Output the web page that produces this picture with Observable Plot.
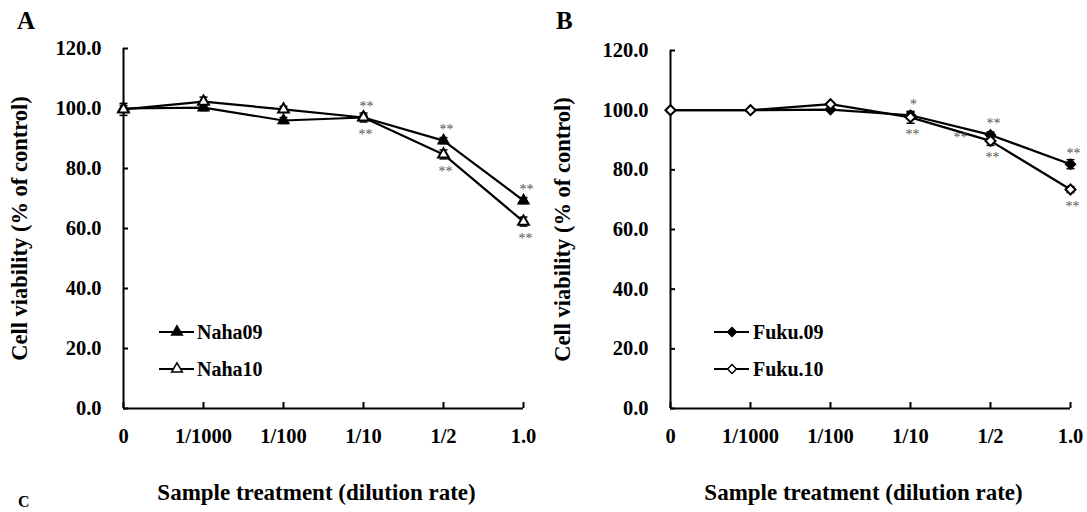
<!DOCTYPE html>
<html><head><meta charset="utf-8">
<script src="https://cdn.jsdelivr.net/npm/d3@7"></script>
<script src="https://cdn.jsdelivr.net/npm/@observablehq/plot@0.6"></script>
<style>
html,body{margin:0;padding:0;background:#fff;overflow:hidden;}
#root{position:relative;width:1087px;height:512px;overflow:hidden;font-family:"Liberation Serif","Times New Roman",serif;}
.panel{position:absolute;top:0;}
.letter{position:absolute;font-weight:bold;font-size:25px;line-height:1;}
#legend{position:absolute;left:0;top:0;pointer-events:none;}
</style></head><body><div id="root"></div>
<script>
// ---------- data ----------
const doses = ["0", "1/1000", "1/100", "1/10", "1/2", "1.0"];
const yTicks = [0, 20, 40, 60, 80, 100, 120];

const naha09 = [100.0, 100.3, 96.0, 97.0, 89.3, 69.3];
const naha09Err = [1.0, 1.0, 1.0, 0.8, 1.0, 1.0];
const naha10 = [99.7, 102.3, 99.7, 97.0, 84.7, 62.3];
const naha10Err = [2.0, 1.5, 1.0, 1.5, 1.5, 1.5];
const naha09Sig = ["", "", "", "**", "**", "**"];   // above
const naha10Sig = ["", "", "", "**", "**", "**"];   // below

const fuku09 = [100.0, 100.0, 100.2, 98.3, 91.7, 81.9];
const fuku09Err = [0.5, 0.5, 0.5, 1.0, 1.0, 1.5];
const fuku10 = [100.0, 100.0, 102.0, 97.6, 89.7, 73.4];
const fuku10Err = [0.5, 0.5, 0.5, 2.0, 1.5, 1.0];
const fuku09Sig = ["", "", "", "*", "**", "**"];    // above
const fuku10Sig = ["", "", "", "**", "**", "**"];   // below
const fukuExtraSig = ["", "", "", "", "**", ""];    // stray mark left of 1/2

const yTitle = "Cell viability (% of control)";
const xTitle = "Sample treatment (dilution rate)";
const panelLetters = ["A", "B", "C"];

// ---------- helpers ----------
const FONT = "Liberation Serif, Times New Roman, serif";
const capSymbol = {draw(ctx, size) { const w = Math.sqrt(size / Math.PI); ctx.moveTo(-w, 0); ctx.lineTo(w, 0); }};

function rows(name, vals, errs, sig) {
  return doses.map((d, i) => ({series: name, dose: d, value: vals[i], err: errs[i], sig: sig ? sig[i] : ""}));
}

function panel({width, marginLeft, marginRight, marginTop, s1, s2, symbol, r, extra}) {
  const data = [...s1, ...s2];
  return Plot.plot({
    width, height: 512, marginLeft, marginRight, marginTop, marginBottom: 104,
    style: {fontFamily: FONT, fontWeight: "bold", fontSize: "20px", color: "black", background: "transparent", overflow: "visible"},
    x: {type: "point", domain: doses, padding: 0},
    y: {domain: [0, 120]},
    marks: [
      Plot.axisY(yTicks, {tickSize: -5, tickPadding: 27, strokeWidth: 2, tickFormat: d => d.toFixed(1), label: null, fontSize: 20.5, fontWeight: "bold"}),
      Plot.axisX(doses, {tickSize: -6, tickPadding: 26, strokeWidth: 2, label: null, fontSize: 20.5, fontWeight: "bold"}),
      Plot.ruleY([0], {strokeWidth: 2}),
      Plot.ruleX([doses[0]], {strokeWidth: 2}),
      Plot.line(data, {x: "dose", y: "value", z: "series", stroke: "black", strokeWidth: 2.2}),
      Plot.ruleX(data, {x: "dose", y1: d => d.value - d.err, y2: d => d.value + d.err, stroke: "black", strokeWidth: 1.5}),
      Plot.dot(data, {x: "dose", y: d => d.value - d.err, symbol: capSymbol, r: 4, stroke: "black", strokeWidth: 1.5}),
      Plot.dot(data, {x: "dose", y: d => d.value + d.err, symbol: capSymbol, r: 4, stroke: "black", strokeWidth: 1.5}),
      Plot.dot(s1, {x: "dose", y: "value", symbol, r, fill: "black", stroke: "black", strokeWidth: 1.5}),
      Plot.dot(s2, {x: "dose", y: "value", symbol, r, fill: "white", stroke: "black", strokeWidth: 2}),
      Plot.text(s1.filter(d => d.sig), {x: "dose", y: "value", text: "sig", dy: -11, dx: 3, fontSize: 14, fontWeight: "normal", fill: "#5a5048"}),
      Plot.text(s2.filter(d => d.sig), {x: "dose", y: "value", text: "sig", dy: 17, dx: 2, fontSize: 14, fontWeight: "normal", fill: "#5a5048"}),
      ...(extra ? [Plot.text(extra, {x: "dose", y: "value", text: "sig", dx: -30, dy: -3, fontSize: 14, fontWeight: "normal", fill: "#5a5048"})] : []),
      Plot.text([yTitle], {frameAnchor: "left", textAnchor: "middle", lineAnchor: "middle", rotate: -90, dx: -(marginLeft - 19), fontSize: 22.5, fontWeight: "bold"}),
      Plot.text([xTitle], {frameAnchor: "bottom", textAnchor: "middle", lineAnchor: "middle", dy: 84, dx: -7, fontSize: 23, fontWeight: "bold"})
    ]
  });
}

const root = document.getElementById("root");

const A = panel({
  width: 543, marginLeft: 123, marginRight: 20, marginTop: 48,
  s1: rows("Naha09", naha09, naha09Err, naha09Sig),
  s2: rows("Naha10", naha10, naha10Err, naha10Sig),
  symbol: "triangle", r: 4
});
A.classList.add("panel"); A.style.left = "0px";
root.appendChild(A);

const fuku10Rows = rows("Fuku.10", fuku10, fuku10Err, fuku10Sig);
const B = panel({
  width: 544, marginLeft: 127, marginRight: 17, marginTop: 50,
  s1: rows("Fuku.09", fuku09, fuku09Err, fuku09Sig),
  s2: fuku10Rows,
  symbol: "diamond2", r: 4.5,
  extra: fuku10Rows.map((d, i) => ({...d, sig: fukuExtraSig[i]})).filter(d => d.sig)
});
B.classList.add("panel"); B.style.left = "543px";
root.appendChild(B);

// ---------- panel letters ----------
[[panelLetters[0], 17, 8], [panelLetters[1], 556, 8], [panelLetters[2], 18, 494]].forEach(([t, x, y]) => {
  const el = document.createElement("div");
  el.className = "letter"; el.textContent = t;
  el.style.left = x + "px"; el.style.top = y + "px";
  if (t === "C") el.style.fontSize = "16px";
  root.appendChild(el);
});

// ---------- legends ----------
const leg = d3.select(root).append("svg").attr("id", "legend").attr("width", 1087).attr("height", 512);
const legends = [
  {x0: 159, x1: 194, xm: 177, xt: 197, ys: [332, 369], names: ["Naha09", "Naha10"], sym: d3.symbolTriangle, size: Math.PI * 16},
  {x0: 714, x1: 749, xm: 732, xt: 753, ys: [332, 369], names: ["Fuku.09", "Fuku.10"], sym: d3.symbolDiamond2, size: Math.PI * 16}
];
legends.forEach(L => {
  L.names.forEach((n, i) => {
    const y = L.ys[i];
    leg.append("line").attr("x1", L.x0).attr("x2", L.x1).attr("y1", y).attr("y2", y).attr("stroke", "black").attr("stroke-width", 2);
    leg.append("path").attr("d", d3.symbol(L.sym, L.size)()).attr("transform", `translate(${L.xm},${y})`)
      .attr("fill", i === 0 ? "black" : "white").attr("stroke", "black").attr("stroke-width", 1.5);
    leg.append("text").attr("x", L.xt).attr("y", y).attr("dy", "0.35em").text(n)
      .attr("font-family", FONT).attr("font-weight", "bold").attr("font-size", 20);
  });
});
</script>
</body></html>
